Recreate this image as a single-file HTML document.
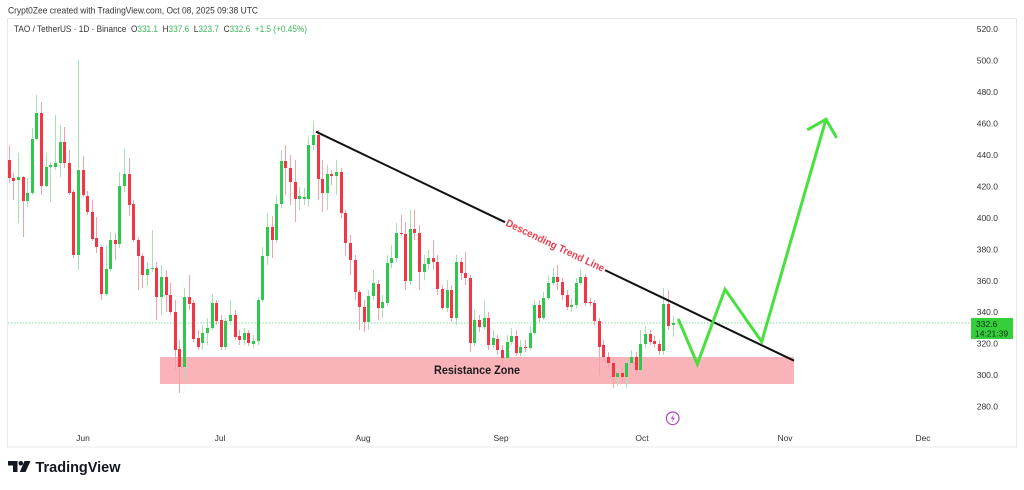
<!DOCTYPE html>
<html><head><meta charset="utf-8"><style>
html,body{margin:0;padding:0;background:#fff;}
body{width:1024px;height:490px;position:relative;overflow:hidden;font-family:"Liberation Sans",sans-serif;}
svg{position:absolute;left:0;top:0;}
#cs{position:absolute;left:7px;top:0;height:490px;display:flex;}
.c{width:4.62px;height:490px;position:relative;flex:none;}
.c i,.c b{position:absolute;display:block;}
.c i{left:1.81px;width:1px;top:calc(var(--h)*1px);height:calc((var(--l) - var(--h))*1px);}
.c b{left:0.81px;width:3px;top:calc(var(--t)*1px);height:calc(max(1, var(--b) - var(--t))*1px);}
.r i{background:#f5a3aa}.r b{background:#f23645}
.g i{background:#a6e2b1}.g b{background:#2dc84d}
</style></head><body>
<svg width="1024" height="490" viewBox="0 0 1024 490">
<rect x="7.5" y="18.5" width="1009" height="428.5" fill="#fff" stroke="#e6e8ee" stroke-width="1"/>
<rect x="160" y="357" width="634" height="27" fill="#f9b3b9"/>
<line x1="8" y1="323" x2="971" y2="323" stroke="#8fd89c" stroke-width="1" stroke-dasharray="1.5 1.5"/>
</svg>
<div id="cs">
<div class="c r" style="--t:160;--b:178;--h:145;--l:183"><i></i><b></b></div>
<div class="c r" style="--t:178;--b:181;--h:173;--l:200"><i></i><b></b></div>
<div class="c g" style="--t:177;--b:180;--h:153;--l:223"><i></i><b></b></div>
<div class="c r" style="--t:177;--b:201;--h:176;--l:237"><i></i><b></b></div>
<div class="c g" style="--t:193;--b:201;--h:178;--l:207"><i></i><b></b></div>
<div class="c g" style="--t:139;--b:193;--h:128;--l:195"><i></i><b></b></div>
<div class="c g" style="--t:113;--b:139;--h:95;--l:140"><i></i><b></b></div>
<div class="c r" style="--t:113;--b:186;--h:102;--l:195"><i></i><b></b></div>
<div class="c g" style="--t:167;--b:186;--h:153;--l:187"><i></i><b></b></div>
<div class="c g" style="--t:165;--b:167;--h:162;--l:202"><i></i><b></b></div>
<div class="c g" style="--t:163;--b:167;--h:115;--l:170"><i></i><b></b></div>
<div class="c g" style="--t:142;--b:163;--h:125;--l:177"><i></i><b></b></div>
<div class="c r" style="--t:142;--b:163;--h:127;--l:168"><i></i><b></b></div>
<div class="c r" style="--t:163;--b:193;--h:150;--l:195"><i></i><b></b></div>
<div class="c r" style="--t:192;--b:255;--h:190;--l:258"><i></i><b></b></div>
<div class="c g" style="--t:170;--b:255;--h:60;--l:270"><i></i><b></b></div>
<div class="c r" style="--t:170;--b:195;--h:156;--l:197"><i></i><b></b></div>
<div class="c r" style="--t:196;--b:212;--h:191;--l:215"><i></i><b></b></div>
<div class="c r" style="--t:212;--b:239;--h:200;--l:241"><i></i><b></b></div>
<div class="c r" style="--t:238;--b:247;--h:217;--l:253"><i></i><b></b></div>
<div class="c r" style="--t:247;--b:294;--h:245;--l:300"><i></i><b></b></div>
<div class="c g" style="--t:269;--b:294;--h:245;--l:296"><i></i><b></b></div>
<div class="c g" style="--t:240;--b:269;--h:232;--l:272"><i></i><b></b></div>
<div class="c r" style="--t:240;--b:244;--h:233;--l:260"><i></i><b></b></div>
<div class="c g" style="--t:186;--b:244;--h:172;--l:248"><i></i><b></b></div>
<div class="c g" style="--t:174;--b:186;--h:149;--l:192"><i></i><b></b></div>
<div class="c r" style="--t:174;--b:205;--h:158;--l:216"><i></i><b></b></div>
<div class="c r" style="--t:204;--b:240;--h:200;--l:242"><i></i><b></b></div>
<div class="c r" style="--t:240;--b:256;--h:237;--l:290"><i></i><b></b></div>
<div class="c r" style="--t:256;--b:275;--h:253;--l:288"><i></i><b></b></div>
<div class="c g" style="--t:269;--b:275;--h:262;--l:286"><i></i><b></b></div>
<div class="c g" style="--t:268;--b:269;--h:230;--l:272"><i></i><b></b></div>
<div class="c r" style="--t:268;--b:297;--h:262;--l:320"><i></i><b></b></div>
<div class="c g" style="--t:277;--b:297;--h:265;--l:315"><i></i><b></b></div>
<div class="c r" style="--t:277;--b:295;--h:270;--l:312"><i></i><b></b></div>
<div class="c r" style="--t:295;--b:312;--h:283;--l:315"><i></i><b></b></div>
<div class="c r" style="--t:312;--b:350;--h:300;--l:370"><i></i><b></b></div>
<div class="c r" style="--t:349;--b:367;--h:340;--l:393"><i></i><b></b></div>
<div class="c g" style="--t:297;--b:367;--h:288;--l:380"><i></i><b></b></div>
<div class="c r" style="--t:297;--b:304;--h:275;--l:310"><i></i><b></b></div>
<div class="c r" style="--t:303;--b:339;--h:300;--l:342"><i></i><b></b></div>
<div class="c r" style="--t:338;--b:347;--h:330;--l:350"><i></i><b></b></div>
<div class="c g" style="--t:333;--b:343;--h:325;--l:350"><i></i><b></b></div>
<div class="c g" style="--t:328;--b:333;--h:318;--l:345"><i></i><b></b></div>
<div class="c g" style="--t:303;--b:328;--h:294;--l:330"><i></i><b></b></div>
<div class="c r" style="--t:303;--b:321;--h:300;--l:325"><i></i><b></b></div>
<div class="c r" style="--t:320;--b:347;--h:315;--l:350"><i></i><b></b></div>
<div class="c g" style="--t:321;--b:347;--h:318;--l:350"><i></i><b></b></div>
<div class="c g" style="--t:315;--b:321;--h:300;--l:325"><i></i><b></b></div>
<div class="c r" style="--t:315;--b:337;--h:310;--l:340"><i></i><b></b></div>
<div class="c r" style="--t:336;--b:340;--h:330;--l:345"><i></i><b></b></div>
<div class="c g" style="--t:333;--b:340;--h:328;--l:345"><i></i><b></b></div>
<div class="c r" style="--t:333;--b:343;--h:330;--l:346"><i></i><b></b></div>
<div class="c g" style="--t:341;--b:344;--h:335;--l:348"><i></i><b></b></div>
<div class="c g" style="--t:300;--b:341;--h:297;--l:345"><i></i><b></b></div>
<div class="c g" style="--t:256;--b:300;--h:247;--l:302"><i></i><b></b></div>
<div class="c g" style="--t:227;--b:256;--h:213;--l:265"><i></i><b></b></div>
<div class="c r" style="--t:227;--b:240;--h:216;--l:258"><i></i><b></b></div>
<div class="c g" style="--t:204;--b:240;--h:195;--l:243"><i></i><b></b></div>
<div class="c g" style="--t:161;--b:204;--h:150;--l:208"><i></i><b></b></div>
<div class="c r" style="--t:161;--b:168;--h:145;--l:195"><i></i><b></b></div>
<div class="c r" style="--t:168;--b:182;--h:155;--l:205"><i></i><b></b></div>
<div class="c r" style="--t:182;--b:199;--h:160;--l:222"><i></i><b></b></div>
<div class="c g" style="--t:196;--b:199;--h:187;--l:210"><i></i><b></b></div>
<div class="c g" style="--t:197;--b:199;--h:188;--l:205"><i></i><b></b></div>
<div class="c g" style="--t:145;--b:199;--h:137;--l:207"><i></i><b></b></div>
<div class="c g" style="--t:135;--b:145;--h:121;--l:150"><i></i><b></b></div>
<div class="c r" style="--t:135;--b:179;--h:130;--l:200"><i></i><b></b></div>
<div class="c r" style="--t:179;--b:193;--h:160;--l:212"><i></i><b></b></div>
<div class="c g" style="--t:174;--b:193;--h:165;--l:210"><i></i><b></b></div>
<div class="c r" style="--t:174;--b:176;--h:170;--l:185"><i></i><b></b></div>
<div class="c g" style="--t:172;--b:176;--h:160;--l:195"><i></i><b></b></div>
<div class="c r" style="--t:172;--b:213;--h:168;--l:218"><i></i><b></b></div>
<div class="c r" style="--t:213;--b:243;--h:210;--l:256"><i></i><b></b></div>
<div class="c r" style="--t:243;--b:260;--h:235;--l:275"><i></i><b></b></div>
<div class="c r" style="--t:260;--b:292;--h:255;--l:300"><i></i><b></b></div>
<div class="c r" style="--t:292;--b:307;--h:290;--l:330"><i></i><b></b></div>
<div class="c r" style="--t:307;--b:322;--h:300;--l:332"><i></i><b></b></div>
<div class="c g" style="--t:296;--b:322;--h:290;--l:330"><i></i><b></b></div>
<div class="c g" style="--t:283;--b:296;--h:270;--l:300"><i></i><b></b></div>
<div class="c r" style="--t:284;--b:308;--h:280;--l:320"><i></i><b></b></div>
<div class="c g" style="--t:302;--b:308;--h:295;--l:318"><i></i><b></b></div>
<div class="c g" style="--t:263;--b:303;--h:255;--l:306"><i></i><b></b></div>
<div class="c g" style="--t:258;--b:263;--h:245;--l:268"><i></i><b></b></div>
<div class="c g" style="--t:233;--b:258;--h:223;--l:262"><i></i><b></b></div>
<div class="c r" style="--t:233;--b:234;--h:215;--l:236"><i></i><b></b></div>
<div class="c r" style="--t:234;--b:281;--h:222;--l:290"><i></i><b></b></div>
<div class="c g" style="--t:229;--b:281;--h:210;--l:285"><i></i><b></b></div>
<div class="c r" style="--t:229;--b:233;--h:210;--l:240"><i></i><b></b></div>
<div class="c r" style="--t:233;--b:272;--h:225;--l:290"><i></i><b></b></div>
<div class="c g" style="--t:264;--b:272;--h:255;--l:280"><i></i><b></b></div>
<div class="c g" style="--t:258;--b:264;--h:250;--l:270"><i></i><b></b></div>
<div class="c r" style="--t:258;--b:262;--h:240;--l:270"><i></i><b></b></div>
<div class="c r" style="--t:262;--b:289;--h:255;--l:295"><i></i><b></b></div>
<div class="c r" style="--t:289;--b:308;--h:285;--l:310"><i></i><b></b></div>
<div class="c g" style="--t:290;--b:308;--h:280;--l:312"><i></i><b></b></div>
<div class="c r" style="--t:290;--b:318;--h:285;--l:322"><i></i><b></b></div>
<div class="c g" style="--t:262;--b:318;--h:255;--l:325"><i></i><b></b></div>
<div class="c r" style="--t:262;--b:273;--h:258;--l:280"><i></i><b></b></div>
<div class="c r" style="--t:273;--b:278;--h:252;--l:285"><i></i><b></b></div>
<div class="c r" style="--t:278;--b:343;--h:275;--l:352"><i></i><b></b></div>
<div class="c g" style="--t:320;--b:343;--h:310;--l:346"><i></i><b></b></div>
<div class="c r" style="--t:320;--b:327;--h:315;--l:332"><i></i><b></b></div>
<div class="c g" style="--t:318;--b:327;--h:300;--l:330"><i></i><b></b></div>
<div class="c r" style="--t:318;--b:345;--h:312;--l:350"><i></i><b></b></div>
<div class="c g" style="--t:338;--b:345;--h:330;--l:348"><i></i><b></b></div>
<div class="c r" style="--t:339;--b:350;--h:335;--l:355"><i></i><b></b></div>
<div class="c r" style="--t:350;--b:358;--h:345;--l:365"><i></i><b></b></div>
<div class="c g" style="--t:342;--b:358;--h:335;--l:360"><i></i><b></b></div>
<div class="c g" style="--t:336;--b:342;--h:328;--l:345"><i></i><b></b></div>
<div class="c r" style="--t:336;--b:353;--h:330;--l:356"><i></i><b></b></div>
<div class="c g" style="--t:347;--b:353;--h:340;--l:356"><i></i><b></b></div>
<div class="c r" style="--t:347;--b:348;--h:340;--l:352"><i></i><b></b></div>
<div class="c g" style="--t:333;--b:348;--h:326;--l:350"><i></i><b></b></div>
<div class="c g" style="--t:305;--b:333;--h:300;--l:335"><i></i><b></b></div>
<div class="c r" style="--t:305;--b:318;--h:300;--l:322"><i></i><b></b></div>
<div class="c g" style="--t:298;--b:318;--h:292;--l:320"><i></i><b></b></div>
<div class="c g" style="--t:283;--b:298;--h:275;--l:300"><i></i><b></b></div>
<div class="c g" style="--t:277;--b:283;--h:268;--l:285"><i></i><b></b></div>
<div class="c r" style="--t:277;--b:282;--h:265;--l:290"><i></i><b></b></div>
<div class="c r" style="--t:282;--b:295;--h:278;--l:300"><i></i><b></b></div>
<div class="c r" style="--t:295;--b:307;--h:290;--l:310"><i></i><b></b></div>
<div class="c g" style="--t:305;--b:307;--h:298;--l:312"><i></i><b></b></div>
<div class="c g" style="--t:283;--b:305;--h:278;--l:308"><i></i><b></b></div>
<div class="c g" style="--t:277;--b:283;--h:269;--l:285"><i></i><b></b></div>
<div class="c r" style="--t:277;--b:303;--h:274;--l:306"><i></i><b></b></div>
<div class="c r" style="--t:302;--b:303;--h:298;--l:306"><i></i><b></b></div>
<div class="c r" style="--t:303;--b:321;--h:300;--l:325"><i></i><b></b></div>
<div class="c r" style="--t:321;--b:347;--h:318;--l:375"><i></i><b></b></div>
<div class="c r" style="--t:345;--b:357;--h:340;--l:362"><i></i><b></b></div>
<div class="c r" style="--t:357;--b:363;--h:352;--l:368"><i></i><b></b></div>
<div class="c r" style="--t:363;--b:377;--h:358;--l:388"><i></i><b></b></div>
<div class="c g" style="--t:373;--b:377;--h:368;--l:386"><i></i><b></b></div>
<div class="c r" style="--t:373;--b:377;--h:368;--l:382"><i></i><b></b></div>
<div class="c g" style="--t:363;--b:377;--h:358;--l:388"><i></i><b></b></div>
<div class="c g" style="--t:357;--b:363;--h:350;--l:368"><i></i><b></b></div>
<div class="c r" style="--t:357;--b:370;--h:352;--l:375"><i></i><b></b></div>
<div class="c g" style="--t:344;--b:370;--h:330;--l:372"><i></i><b></b></div>
<div class="c g" style="--t:334;--b:344;--h:326;--l:348"><i></i><b></b></div>
<div class="c r" style="--t:334;--b:342;--h:330;--l:345"><i></i><b></b></div>
<div class="c r" style="--t:341;--b:344;--h:336;--l:348"><i></i><b></b></div>
<div class="c r" style="--t:344;--b:351;--h:340;--l:355"><i></i><b></b></div>
<div class="c g" style="--t:304;--b:351;--h:288;--l:355"><i></i><b></b></div>
<div class="c r" style="--t:304;--b:326;--h:290;--l:330"><i></i><b></b></div>
<div class="c g" style="--t:323;--b:325;--h:316;--l:337"><i></i><b></b></div>
</div>
<svg width="1024" height="490" viewBox="0 0 1024 490" font-family="Liberation Sans, sans-serif">
<text x="8" y="13.5" font-size="9.5" fill="#333" textLength="250" lengthAdjust="spacingAndGlyphs">Crypt0Zee created with TradingView.com, Oct 08, 2025 09:38 UTC</text>
<text x="14" y="32" font-size="9" fill="#333" style="white-space:pre" textLength="293" lengthAdjust="spacingAndGlyphs">TAO / TetherUS · 1D · Binance  O<tspan fill="#3cb85c">331.1</tspan>  H<tspan fill="#3cb85c">337.6</tspan>  L<tspan fill="#3cb85c">323.7</tspan>  C<tspan fill="#3cb85c">332.6</tspan>  <tspan fill="#3cb85c">+1.5 (+0.45%)</tspan></text>
<g font-size="8.5" fill="#333" text-anchor="end">
<text x="998" y="32">520.0</text><text x="998" y="63.5">500.0</text><text x="998" y="95">480.0</text>
<text x="998" y="126.5">460.0</text><text x="998" y="158">440.0</text><text x="998" y="189.5">420.0</text>
<text x="998" y="221">400.0</text><text x="998" y="252.5">380.0</text><text x="998" y="284">360.0</text>
<text x="998" y="315">340.0</text><text x="998" y="346.5">320.0</text><text x="998" y="378">300.0</text>
<text x="998" y="409.5">280.0</text>
</g>
<rect x="971" y="318" width="42" height="21" fill="#35cf3c"/>
<text x="976" y="327" font-size="8.5" fill="#10301a">332.6</text>
<text x="975" y="336.5" font-size="8.5" fill="#10301a">14:21:39</text>
<g font-size="8.5" fill="#333" text-anchor="middle">
<text x="83" y="441">Jun</text><text x="220" y="441">Jul</text><text x="363" y="441">Aug</text>
<text x="501" y="441">Sep</text><text x="642" y="441">Oct</text><text x="785" y="441">Nov</text>
<text x="923" y="441">Dec</text>
</g>
<text x="477" y="374" font-size="12" font-weight="bold" fill="#1c1c1c" text-anchor="middle" textLength="86" lengthAdjust="spacingAndGlyphs">Resistance Zone</text>
<line x1="316" y1="131.7" x2="505" y2="222.2" stroke="#111" stroke-width="2"/>
<line x1="605" y1="270.1" x2="794" y2="360.7" stroke="#111" stroke-width="2"/>
<text x="0" y="0" transform="translate(555 246) rotate(25.6)" font-size="10.5" font-weight="bold" fill="#e8404f" text-anchor="middle" dominant-baseline="central" textLength="108" lengthAdjust="spacingAndGlyphs">Descending Trend Line</text>
<polyline points="678.7,320 697.3,364 725,289.3 761.7,341.7 826,119.3" fill="none" stroke="#48e03f" stroke-width="3" stroke-linejoin="miter" stroke-linecap="round"/>
<polyline points="808.3,129.3 826,119.3 836,136.7" fill="none" stroke="#48e03f" stroke-width="3" stroke-linejoin="miter" stroke-linecap="round"/>
<circle cx="672.7" cy="418.3" r="6.3" fill="#fff" stroke="#b045c6" stroke-width="1.2"/>
<path d="M674 414 L670.6 418.8 L673 418.8 L671.6 422.6 L675 417.6 L672.6 417.6 Z" fill="#b045c6"/>
<path d="M8 461 H17.5 V472 H13 V465.5 H8 Z" fill="#131722"/>
<circle cx="20.8" cy="463.3" r="2.3" fill="#131722"/>
<path d="M24.5 461 H30.5 L25.5 472 H19.8 Z" fill="#131722"/>
<text x="35.5" y="472" font-size="15" font-weight="bold" fill="#131722" textLength="85" lengthAdjust="spacingAndGlyphs">TradingView</text>
</svg>
</body></html>
